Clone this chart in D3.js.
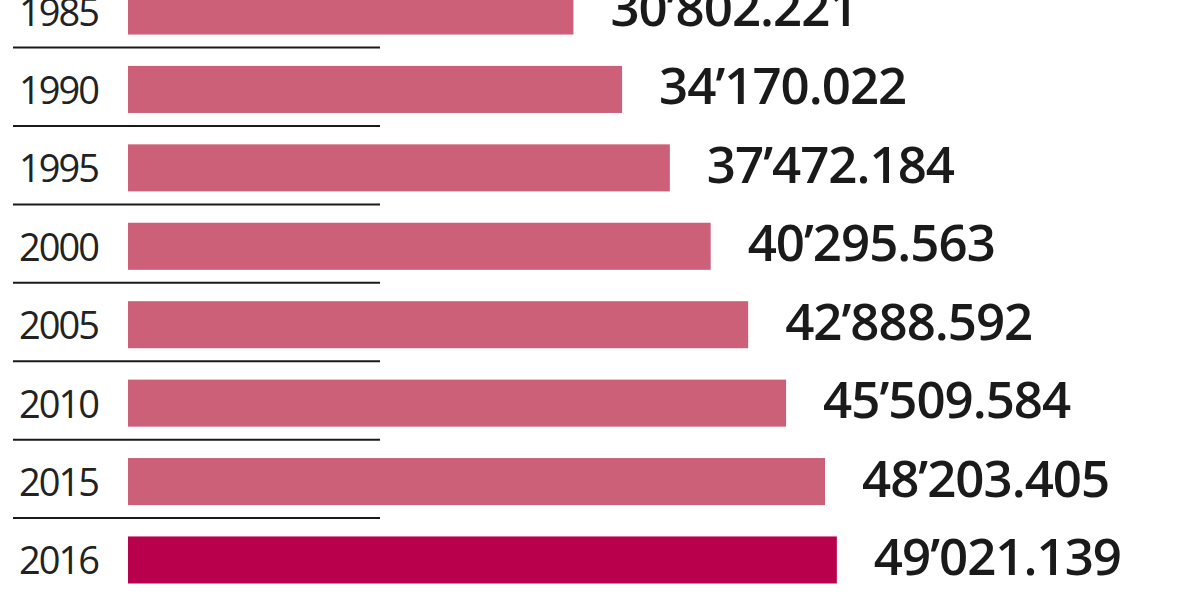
<!DOCTYPE html>
<html>
<head>
<meta charset="utf-8">
<script src="https://cdn.jsdelivr.net/npm/d3@7"></script>
<style>
  html, body { margin: 0; padding: 0; background: #fff; }
  svg { display: block; }
</style>
</head>
<body>
<svg id="chart" width="1200" height="600"></svg>
<script>
const years = ["1985", "1990", "1995", "2000", "2005", "2010", "2015", "2016"];
const values = [30802.221, 34170.022, 37472.184, 40295.563, 42888.592, 45509.584, 48203.405, 49021.139];
const valueLabels = ["30’802.221", "34’170.022", "37’472.184", "40’295.563", "42’888.592", "45’509.584", "48’203.405", "49’021.139"];
const highlightYear = "2016";

const data = years.map((y, i) => ({ year: y, value: values[i], label: valueLabels[i] }));

const svg = d3.select("#chart");

const x = d3.scaleLinear().domain([0, 50000]).range([128, 851]);
const y = d3.scaleBand().domain(years).range([-12.5, 583.5]).paddingInner(0.4).paddingOuter(0);

// separator lines
svg.append("g").selectAll("line")
  .data(data.filter(d => d.year !== highlightYear))
  .join("line")
  .attr("x1", 13).attr("x2", 380)
  .attr("y1", d => y(d.year) + y.bandwidth() + 13)
  .attr("y2", d => y(d.year) + y.bandwidth() + 13)
  .attr("stroke", "#1a1a1a")
  .attr("stroke-width", 2);

// bars
svg.append("g").selectAll("rect")
  .data(data)
  .join("rect")
  .attr("x", x(0))
  .attr("y", d => y(d.year))
  .attr("width", d => x(d.value) - x(0))
  .attr("height", y.bandwidth())
  .attr("fill", d => d.year === highlightYear ? "#b9004c" : "#cd6079");

// year labels
svg.append("g").selectAll("text")
  .data(data)
  .join("text")
  .attr("x", 19)
  .attr("y", d => y(d.year) + y.bandwidth() / 2 + 14.5)
  .attr("font-family", "Open Sans, sans-serif")
  .attr("font-size", 38)
  .attr("letter-spacing", "-2px")
  .attr("fill", "#222")
  .text(d => d.year);

// value labels
svg.append("g").selectAll("text")
  .data(data)
  .join("text")
  .attr("x", d => x(d.value) + 37)
  .attr("y", d => y(d.year) + y.bandwidth() / 2 + 15)
  .attr("font-family", "Open Sans, sans-serif")
  .attr("font-size", 51)
  .attr("font-weight", 600)
  .attr("letter-spacing", "-1px")
  .attr("fill", "#1a1a1a")
  .text(d => d.label);
</script>
</body>
</html>
